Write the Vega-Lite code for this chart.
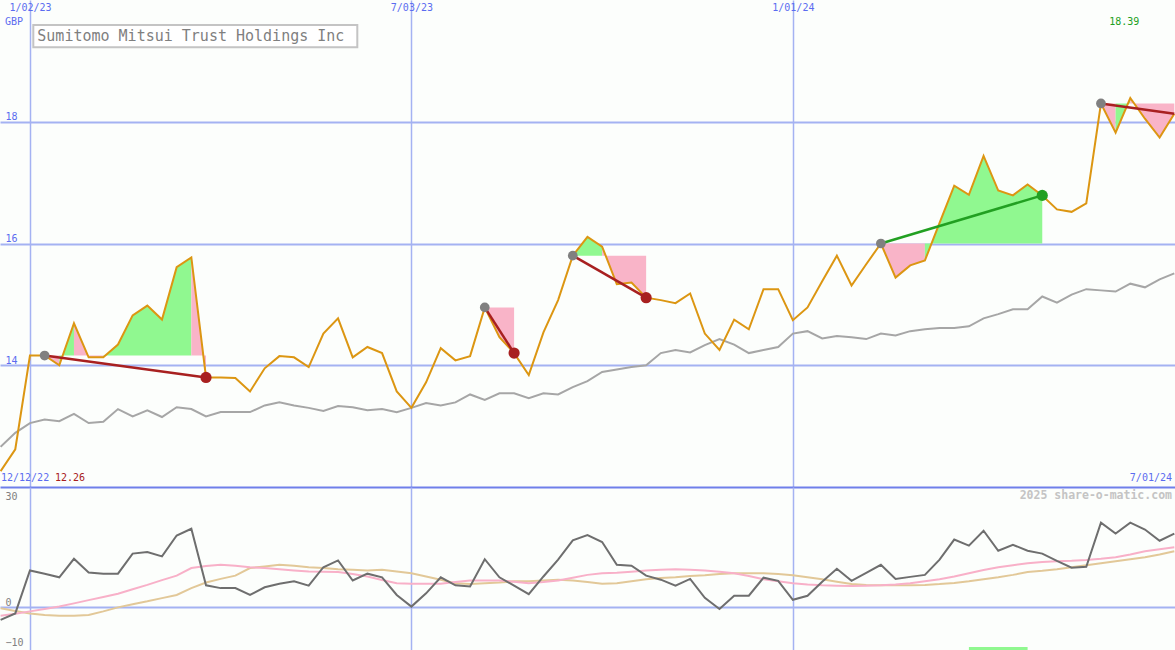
{
  "$schema": "https://vega.github.io/schema/vega-lite/v6.json",
  "background": "#fcfefc",
  "padding": 0,
  "spacing": 0,
  "bounds": "flush",
  "config": {
    "view": {"stroke": null},
    "axis": {"labelFont": "DejaVu Sans Mono"},
    "text": {"font": "DejaVu Sans Mono"}
  },
  "datasets": {
    "weeks": [
      {"d": "2022-12-19T00:00:00", "price": 12.26, "avg": 12.66, "mom": -3.1, "sig1": -2.1, "sig2": -0.2},
      {"d": "2022-12-26T00:00:00", "price": 12.62, "avg": 12.89, "mom": -1.5, "sig1": -1.6, "sig2": -0.9},
      {"d": "2023-01-02T00:00:00", "price": 14.16, "avg": 13.05, "mom": 9.2, "sig1": -1.0, "sig2": -1.5},
      {"d": "2023-01-09T00:00:00", "price": 14.16, "avg": 13.11, "mom": 8.4, "sig1": -0.4, "sig2": -1.9},
      {"d": "2023-01-16T00:00:00", "price": 14.00, "avg": 13.08, "mom": 7.5, "sig1": 0.2, "sig2": -2.1},
      {"d": "2023-01-23T00:00:00", "price": 14.69, "avg": 13.20, "mom": 12.1, "sig1": 1.0, "sig2": -2.1},
      {"d": "2023-01-30T00:00:00", "price": 14.13, "avg": 13.05, "mom": 8.7, "sig1": 1.8, "sig2": -1.9},
      {"d": "2023-02-06T00:00:00", "price": 14.13, "avg": 13.07, "mom": 8.4, "sig1": 2.6, "sig2": -1.0},
      {"d": "2023-02-13T00:00:00", "price": 14.34, "avg": 13.28, "mom": 8.4, "sig1": 3.4, "sig2": 0.0},
      {"d": "2023-02-20T00:00:00", "price": 14.82, "avg": 13.16, "mom": 13.4, "sig1": 4.5, "sig2": 0.8},
      {"d": "2023-02-27T00:00:00", "price": 14.98, "avg": 13.26, "mom": 13.8, "sig1": 5.6, "sig2": 1.5},
      {"d": "2023-03-06T00:00:00", "price": 14.75, "avg": 13.15, "mom": 12.7, "sig1": 6.8, "sig2": 2.3},
      {"d": "2023-03-13T00:00:00", "price": 15.61, "avg": 13.31, "mom": 17.9, "sig1": 7.9, "sig2": 3.1},
      {"d": "2023-03-20T00:00:00", "price": 15.77, "avg": 13.28, "mom": 19.6, "sig1": 9.8, "sig2": 4.8},
      {"d": "2023-03-27T00:00:00", "price": 13.80, "avg": 13.16, "mom": 5.5, "sig1": 10.3, "sig2": 6.2},
      {"d": "2023-04-03T00:00:00", "price": 13.80, "avg": 13.23, "mom": 4.8, "sig1": 10.6, "sig2": 7.1},
      {"d": "2023-04-10T00:00:00", "price": 13.79, "avg": 13.23, "mom": 4.8, "sig1": 10.4, "sig2": 7.9},
      {"d": "2023-04-17T00:00:00", "price": 13.57, "avg": 13.23, "mom": 3.1, "sig1": 10.0, "sig2": 9.8},
      {"d": "2023-04-24T00:00:00", "price": 13.95, "avg": 13.34, "mom": 5.0, "sig1": 9.8, "sig2": 10.2},
      {"d": "2023-05-01T00:00:00", "price": 14.15, "avg": 13.39, "mom": 5.9, "sig1": 9.5, "sig2": 10.6},
      {"d": "2023-05-08T00:00:00", "price": 14.13, "avg": 13.34, "mom": 6.5, "sig1": 9.2, "sig2": 10.4},
      {"d": "2023-05-15T00:00:00", "price": 13.97, "avg": 13.30, "mom": 5.4, "sig1": 8.95, "sig2": 10.0},
      {"d": "2023-05-22T00:00:00", "price": 14.52, "avg": 13.25, "mom": 10.0, "sig1": 8.9, "sig2": 9.8},
      {"d": "2023-05-29T00:00:00", "price": 14.77, "avg": 13.33, "mom": 11.7, "sig1": 8.8, "sig2": 9.5},
      {"d": "2023-06-05T00:00:00", "price": 14.13, "avg": 13.31, "mom": 6.7, "sig1": 8.3, "sig2": 9.4},
      {"d": "2023-06-12T00:00:00", "price": 14.30, "avg": 13.26, "mom": 8.4, "sig1": 7.7, "sig2": 9.2},
      {"d": "2023-06-19T00:00:00", "price": 14.20, "avg": 13.28, "mom": 7.5, "sig1": 6.8, "sig2": 9.4},
      {"d": "2023-06-26T00:00:00", "price": 13.57, "avg": 13.23, "mom": 3.1, "sig1": 6.0, "sig2": 8.95},
      {"d": "2023-07-03T00:00:00", "price": 13.30, "avg": 13.30, "mom": 0.2, "sig1": 5.9, "sig2": 8.5},
      {"d": "2023-07-10T00:00:00", "price": 13.72, "avg": 13.38, "mom": 3.5, "sig1": 5.9, "sig2": 7.7},
      {"d": "2023-07-17T00:00:00", "price": 14.28, "avg": 13.34, "mom": 7.5, "sig1": 5.9, "sig2": 6.9},
      {"d": "2023-07-24T00:00:00", "price": 14.08, "avg": 13.39, "mom": 5.5, "sig1": 6.3, "sig2": 6.0},
      {"d": "2023-07-31T00:00:00", "price": 14.15, "avg": 13.52, "mom": 5.2, "sig1": 6.7, "sig2": 5.8},
      {"d": "2023-08-07T00:00:00", "price": 14.95, "avg": 13.43, "mom": 12.0, "sig1": 6.7, "sig2": 6.0},
      {"d": "2023-08-14T00:00:00", "price": 14.46, "avg": 13.54, "mom": 7.5, "sig1": 6.7, "sig2": 6.2},
      {"d": "2023-08-21T00:00:00", "price": 14.20, "avg": 13.54, "mom": 5.4, "sig1": 6.4, "sig2": 6.5},
      {"d": "2023-08-28T00:00:00", "price": 13.84, "avg": 13.46, "mom": 3.3, "sig1": 6.0, "sig2": 6.5},
      {"d": "2023-09-04T00:00:00", "price": 14.54, "avg": 13.54, "mom": 7.7, "sig1": 6.3, "sig2": 6.7},
      {"d": "2023-09-11T00:00:00", "price": 15.07, "avg": 13.52, "mom": 11.9, "sig1": 6.7, "sig2": 6.9},
      {"d": "2023-09-18T00:00:00", "price": 15.80, "avg": 13.64, "mom": 16.7, "sig1": 7.4, "sig2": 6.7},
      {"d": "2023-09-25T00:00:00", "price": 16.11, "avg": 13.74, "mom": 18.0, "sig1": 8.1, "sig2": 6.3},
      {"d": "2023-10-02T00:00:00", "price": 15.95, "avg": 13.89, "mom": 16.3, "sig1": 8.5, "sig2": 5.9},
      {"d": "2023-10-09T00:00:00", "price": 15.33, "avg": 13.93, "mom": 10.6, "sig1": 8.6, "sig2": 6.0},
      {"d": "2023-10-16T00:00:00", "price": 15.36, "avg": 13.97, "mom": 10.4, "sig1": 8.9, "sig2": 6.5},
      {"d": "2023-10-23T00:00:00", "price": 15.11, "avg": 14.00, "mom": 7.9, "sig1": 9.2, "sig2": 7.0},
      {"d": "2023-10-30T00:00:00", "price": 15.07, "avg": 14.20, "mom": 6.9, "sig1": 9.4, "sig2": 7.3},
      {"d": "2023-11-06T00:00:00", "price": 15.02, "avg": 14.25, "mom": 5.4, "sig1": 9.5, "sig2": 7.5},
      {"d": "2023-11-13T00:00:00", "price": 15.18, "avg": 14.21, "mom": 7.1, "sig1": 9.4, "sig2": 7.8},
      {"d": "2023-11-20T00:00:00", "price": 14.52, "avg": 14.33, "mom": 2.4, "sig1": 9.2, "sig2": 8.0},
      {"d": "2023-11-27T00:00:00", "price": 14.25, "avg": 14.43, "mom": -0.4, "sig1": 8.9, "sig2": 8.3},
      {"d": "2023-12-04T00:00:00", "price": 14.75, "avg": 14.34, "mom": 2.9, "sig1": 8.5, "sig2": 8.5},
      {"d": "2023-12-11T00:00:00", "price": 14.59, "avg": 14.20, "mom": 2.9, "sig1": 7.8, "sig2": 8.5},
      {"d": "2023-12-18T00:00:00", "price": 15.25, "avg": 14.25, "mom": 7.4, "sig1": 7.0, "sig2": 8.5},
      {"d": "2023-12-25T00:00:00", "price": 15.25, "avg": 14.30, "mom": 6.6, "sig1": 6.5, "sig2": 8.3},
      {"d": "2024-01-01T00:00:00", "price": 14.74, "avg": 14.52, "mom": 1.9, "sig1": 6.0, "sig2": 8.0},
      {"d": "2024-01-08T00:00:00", "price": 14.95, "avg": 14.56, "mom": 2.9, "sig1": 5.7, "sig2": 7.5},
      {"d": "2024-01-15T00:00:00", "price": 15.38, "avg": 14.44, "mom": 6.4, "sig1": 5.5, "sig2": 7.0},
      {"d": "2024-01-22T00:00:00", "price": 15.80, "avg": 14.48, "mom": 9.6, "sig1": 5.4, "sig2": 6.4},
      {"d": "2024-01-29T00:00:00", "price": 15.31, "avg": 14.46, "mom": 6.6, "sig1": 5.3, "sig2": 5.8},
      {"d": "2024-02-05T00:00:00", "price": 15.66, "avg": 14.43, "mom": 8.6, "sig1": 5.4, "sig2": 5.6},
      {"d": "2024-02-12T00:00:00", "price": 16.00, "avg": 14.52, "mom": 10.6, "sig1": 5.5, "sig2": 5.5},
      {"d": "2024-02-19T00:00:00", "price": 15.44, "avg": 14.49, "mom": 7.1, "sig1": 5.7, "sig2": 5.5},
      {"d": "2024-02-26T00:00:00", "price": 15.64, "avg": 14.56, "mom": 7.6, "sig1": 6.0, "sig2": 5.5},
      {"d": "2024-03-04T00:00:00", "price": 15.72, "avg": 14.59, "mom": 8.1, "sig1": 6.5, "sig2": 5.6},
      {"d": "2024-03-11T00:00:00", "price": 16.34, "avg": 14.61, "mom": 11.9, "sig1": 7.0, "sig2": 5.8},
      {"d": "2024-03-18T00:00:00", "price": 16.95, "avg": 14.61, "mom": 16.9, "sig1": 7.7, "sig2": 6.1},
      {"d": "2024-03-25T00:00:00", "price": 16.80, "avg": 14.64, "mom": 15.4, "sig1": 8.5, "sig2": 6.5},
      {"d": "2024-04-01T00:00:00", "price": 17.44, "avg": 14.77, "mom": 19.1, "sig1": 9.3, "sig2": 7.0},
      {"d": "2024-04-08T00:00:00", "price": 16.87, "avg": 14.84, "mom": 14.1, "sig1": 10.0, "sig2": 7.5},
      {"d": "2024-04-15T00:00:00", "price": 16.79, "avg": 14.92, "mom": 15.6, "sig1": 10.5, "sig2": 8.1},
      {"d": "2024-04-22T00:00:00", "price": 16.97, "avg": 14.92, "mom": 14.1, "sig1": 11.0, "sig2": 8.8},
      {"d": "2024-04-29T00:00:00", "price": 16.79, "avg": 15.13, "mom": 13.4, "sig1": 11.3, "sig2": 9.1},
      {"d": "2024-05-06T00:00:00", "price": 16.56, "avg": 15.03, "mom": 11.6, "sig1": 11.5, "sig2": 9.5},
      {"d": "2024-05-13T00:00:00", "price": 16.52, "avg": 15.16, "mom": 9.9, "sig1": 11.6, "sig2": 10.0},
      {"d": "2024-05-20T00:00:00", "price": 16.66, "avg": 15.25, "mom": 10.1, "sig1": 11.8, "sig2": 10.5},
      {"d": "2024-05-27T00:00:00", "price": 18.30, "avg": 15.23, "mom": 21.1, "sig1": 12.1, "sig2": 11.0},
      {"d": "2024-06-03T00:00:00", "price": 17.82, "avg": 15.21, "mom": 18.4, "sig1": 12.5, "sig2": 11.5},
      {"d": "2024-06-10T00:00:00", "price": 18.39, "avg": 15.34, "mom": 21.1, "sig1": 13.2, "sig2": 12.0},
      {"d": "2024-06-17T00:00:00", "price": 18.05, "avg": 15.28, "mom": 19.4, "sig1": 14.0, "sig2": 12.5},
      {"d": "2024-06-24T00:00:00", "price": 17.74, "avg": 15.41, "mom": 16.6, "sig1": 14.5, "sig2": 13.2},
      {"d": "2024-07-01T00:00:00", "price": 18.13, "avg": 15.51, "mom": 18.4, "sig1": 15.0, "sig2": 14.0}
    ],
    "shade": [
      {"run": "1a", "gain": "down", "d": "2023-01-09T00:00:00", "price": 14.16, "base": 14.16},
      {"run": "1a", "gain": "down", "d": "2023-01-16T00:00:00", "price": 14.00, "base": 14.16},
      {"run": "1b", "gain": "up", "d": "2023-01-16T00:00:00", "price": 14.00, "base": 14.16},
      {"run": "1b", "gain": "up", "d": "2023-01-23T00:00:00", "price": 14.69, "base": 14.16},
      {"run": "1c", "gain": "down", "d": "2023-01-23T00:00:00", "price": 14.69, "base": 14.16},
      {"run": "1c", "gain": "down", "d": "2023-01-30T00:00:00", "price": 14.13, "base": 14.16},
      {"run": "1c", "gain": "down", "d": "2023-02-06T00:00:00", "price": 14.13, "base": 14.16},
      {"run": "1d", "gain": "up", "d": "2023-02-06T00:00:00", "price": 14.13, "base": 14.16},
      {"run": "1d", "gain": "up", "d": "2023-02-13T00:00:00", "price": 14.34, "base": 14.16},
      {"run": "1d", "gain": "up", "d": "2023-02-20T00:00:00", "price": 14.82, "base": 14.16},
      {"run": "1d", "gain": "up", "d": "2023-02-27T00:00:00", "price": 14.98, "base": 14.16},
      {"run": "1d", "gain": "up", "d": "2023-03-06T00:00:00", "price": 14.75, "base": 14.16},
      {"run": "1d", "gain": "up", "d": "2023-03-13T00:00:00", "price": 15.61, "base": 14.16},
      {"run": "1d", "gain": "up", "d": "2023-03-20T00:00:00", "price": 15.77, "base": 14.16},
      {"run": "1e", "gain": "down", "d": "2023-03-20T00:00:00", "price": 15.77, "base": 14.16},
      {"run": "1e", "gain": "down", "d": "2023-03-27T00:00:00", "price": 13.80, "base": 14.16},
      {"run": "2a", "gain": "down", "d": "2023-08-07T00:00:00", "price": 14.95, "base": 14.95},
      {"run": "2a", "gain": "down", "d": "2023-08-14T00:00:00", "price": 14.46, "base": 14.95},
      {"run": "2a", "gain": "down", "d": "2023-08-21T00:00:00", "price": 14.20, "base": 14.95},
      {"run": "3a", "gain": "up", "d": "2023-09-18T00:00:00", "price": 15.80, "base": 15.80},
      {"run": "3a", "gain": "up", "d": "2023-09-25T00:00:00", "price": 16.11, "base": 15.80},
      {"run": "3a", "gain": "up", "d": "2023-10-02T00:00:00", "price": 15.95, "base": 15.80},
      {"run": "3b", "gain": "down", "d": "2023-10-02T00:00:00", "price": 15.95, "base": 15.80},
      {"run": "3b", "gain": "down", "d": "2023-10-09T00:00:00", "price": 15.33, "base": 15.80},
      {"run": "3b", "gain": "down", "d": "2023-10-16T00:00:00", "price": 15.36, "base": 15.80},
      {"run": "3b", "gain": "down", "d": "2023-10-23T00:00:00", "price": 15.11, "base": 15.80},
      {"run": "4a", "gain": "down", "d": "2024-02-12T00:00:00", "price": 16.00, "base": 16.00},
      {"run": "4a", "gain": "down", "d": "2024-02-19T00:00:00", "price": 15.44, "base": 16.00},
      {"run": "4a", "gain": "down", "d": "2024-02-26T00:00:00", "price": 15.64, "base": 16.00},
      {"run": "4a", "gain": "down", "d": "2024-03-04T00:00:00", "price": 15.72, "base": 16.00},
      {"run": "4b", "gain": "up", "d": "2024-03-04T00:00:00", "price": 15.72, "base": 16.00},
      {"run": "4b", "gain": "up", "d": "2024-03-11T00:00:00", "price": 16.34, "base": 16.00},
      {"run": "4b", "gain": "up", "d": "2024-03-18T00:00:00", "price": 16.95, "base": 16.00},
      {"run": "4b", "gain": "up", "d": "2024-03-25T00:00:00", "price": 16.80, "base": 16.00},
      {"run": "4b", "gain": "up", "d": "2024-04-01T00:00:00", "price": 17.44, "base": 16.00},
      {"run": "4b", "gain": "up", "d": "2024-04-08T00:00:00", "price": 16.87, "base": 16.00},
      {"run": "4b", "gain": "up", "d": "2024-04-15T00:00:00", "price": 16.79, "base": 16.00},
      {"run": "4b", "gain": "up", "d": "2024-04-22T00:00:00", "price": 16.97, "base": 16.00},
      {"run": "4b", "gain": "up", "d": "2024-04-29T00:00:00", "price": 16.79, "base": 16.00},
      {"run": "5a", "gain": "down", "d": "2024-05-27T00:00:00", "price": 18.30, "base": 18.30},
      {"run": "5a", "gain": "down", "d": "2024-06-03T00:00:00", "price": 17.82, "base": 18.30},
      {"run": "5b", "gain": "up", "d": "2024-06-03T00:00:00", "price": 17.82, "base": 18.30},
      {"run": "5b", "gain": "up", "d": "2024-06-10T00:00:00", "price": 18.39, "base": 18.30},
      {"run": "5c", "gain": "down", "d": "2024-06-10T00:00:00", "price": 18.39, "base": 18.30},
      {"run": "5c", "gain": "down", "d": "2024-06-17T00:00:00", "price": 18.05, "base": 18.30},
      {"run": "5c", "gain": "down", "d": "2024-06-24T00:00:00", "price": 17.74, "base": 18.30},
      {"run": "5c", "gain": "down", "d": "2024-07-01T00:00:00", "price": 18.13, "base": 18.30}
    ],
    "trades": [
      {"d0": "2023-01-09T00:00:00", "p0": 14.16, "d1": "2023-03-27T00:00:00", "p1": 13.80, "result": "loss"},
      {"d0": "2023-08-07T00:00:00", "p0": 14.95, "d1": "2023-08-21T00:00:00", "p1": 14.20, "result": "loss"},
      {"d0": "2023-09-18T00:00:00", "p0": 15.80, "d1": "2023-10-23T00:00:00", "p1": 15.11, "result": "loss"},
      {"d0": "2024-02-12T00:00:00", "p0": 16.00, "d1": "2024-04-29T00:00:00", "p1": 16.79, "result": "gain"},
      {"d0": "2024-05-27T00:00:00", "p0": 18.30, "d1": "2024-07-01T00:00:00", "p1": 18.13, "result": "open"}
    ],
    "flags": [
      {"d0": "2024-03-25T00:00:00", "d1": "2024-04-22T00:00:00", "hi": -9.9, "lo": -11}
    ]
  },
  "vconcat": [
    {
      "width": 1175,
      "height": 487,
      "resolve": {"axis": {"x": "independent", "y": "independent"}},
      "layer": [
        {
          "data": {"name": "shade"},
          "mark": {"type": "area", "clip": true, "opacity": 1},
          "encoding": {
            "x": {"field": "d", "type": "temporal", "scale": {"domain": [{"year": 2022, "month": 12, "date": 18, "hours": 17}, {"year": 2024, "month": 7, "date": 1, "hours": 8}]},
              "axis": {"orient": "top", "values": [{"year": 2023, "month": 1, "date": 2}, {"year": 2023, "month": 7, "date": 3}, {"year": 2024, "month": 1, "date": 1}], "format": "%-m/%d/%y", "grid": true, "gridColor": "#a4b2f2", "gridWidth": 1.5, "domain": false, "ticks": false, "labelPadding": -12, "labelColor": "#5b6cf0", "labelFontSize": 10, "labelFlush": false, "labelOverlap": false, "title": null}},
            "y": {"field": "price", "type": "quantitative", "stack": null, "scale": {"domain": [12, 20], "nice": false, "zero": false},
              "axis": {"orient": "left", "values": [12, 14, 16, 18], "grid": true, "gridColor": {"condition": {"test": "datum.value == 12", "value": "#6f7fea"}, "value": "#a4b2f2"}, "gridWidth": 2, "domain": false, "ticks": false, "labelPadding": -5, "labelAlign": "left", "labelBaseline": "bottom", "labelOffset": 0, "labelColor": "#5b6cf0", "labelFontSize": 10, "labelExpr": "datum.value == 12 ? '' : datum.label", "labelFlush": false, "labelOverlap": false, "title": null}},
            "y2": {"field": "base"},
            "detail": {"field": "run", "type": "nominal"},
            "color": {"condition": {"test": "datum.gain == 'up'", "value": "#90f890"}, "value": "#f9b4c8"}
          }
        },
        {
          "data": {"name": "weeks"},
          "mark": {"type": "line", "clip": true, "color": "#a6a6a6", "strokeWidth": 2},
          "encoding": {
            "x": {"field": "d", "type": "temporal", "scale": {"domain": [{"year": 2022, "month": 12, "date": 18, "hours": 17}, {"year": 2024, "month": 7, "date": 1, "hours": 8}]}, "axis": null},
            "y": {"field": "avg", "type": "quantitative", "scale": {"domain": [12, 20], "nice": false, "zero": false}, "axis": null}
          }
        },
        {
          "data": {"name": "weeks"},
          "mark": {"type": "line", "clip": true, "color": "#dc9612", "strokeWidth": 2},
          "encoding": {
            "x": {"field": "d", "type": "temporal", "scale": {"domain": [{"year": 2022, "month": 12, "date": 18, "hours": 17}, {"year": 2024, "month": 7, "date": 1, "hours": 8}]}, "axis": null},
            "y": {"field": "price", "type": "quantitative", "scale": {"domain": [12, 20], "nice": false, "zero": false}, "axis": null}
          }
        },
        {
          "data": {"name": "trades"},
          "mark": {"type": "rule", "clip": true, "strokeWidth": 2.5},
          "encoding": {
            "x": {"field": "d0", "type": "temporal", "scale": {"domain": [{"year": 2022, "month": 12, "date": 18, "hours": 17}, {"year": 2024, "month": 7, "date": 1, "hours": 8}]}, "axis": null},
            "x2": {"field": "d1"},
            "y": {"field": "p0", "type": "quantitative", "scale": {"domain": [12, 20], "nice": false, "zero": false}, "axis": null},
            "y2": {"field": "p1"},
            "color": {"condition": {"test": "datum.result == 'gain'", "value": "#22a022"}, "value": "#a82020"}
          }
        },
        {
          "data": {"name": "trades"},
          "mark": {"type": "circle", "clip": true, "size": 95, "opacity": 1, "color": "#808080"},
          "encoding": {
            "x": {"field": "d0", "type": "temporal", "scale": {"domain": [{"year": 2022, "month": 12, "date": 18, "hours": 17}, {"year": 2024, "month": 7, "date": 1, "hours": 8}]}, "axis": null},
            "y": {"field": "p0", "type": "quantitative", "scale": {"domain": [12, 20], "nice": false, "zero": false}, "axis": null}
          }
        },
        {
          "data": {"name": "trades"},
          "transform": [{"filter": "datum.result != 'open'"}],
          "mark": {"type": "circle", "clip": true, "size": 125, "opacity": 1},
          "encoding": {
            "x": {"field": "d1", "type": "temporal", "scale": {"domain": [{"year": 2022, "month": 12, "date": 18, "hours": 17}, {"year": 2024, "month": 7, "date": 1, "hours": 8}]}, "axis": null},
            "y": {"field": "p1", "type": "quantitative", "scale": {"domain": [12, 20], "nice": false, "zero": false}, "axis": null},
            "color": {"condition": {"test": "datum.result == 'gain'", "value": "#22a022"}, "value": "#a82020"}
          }
        },
        {
          "data": {"values": [{}]},
          "mark": {"type": "rect", "fill": "#ffffff", "stroke": "#c4c4c4", "strokeWidth": 2},
          "encoding": {
            "x": {"datum": {"year": 2023, "month": 1, "date": 3, "hours": 14, "minutes": 20}, "type": "temporal", "scale": {"domain": [{"year": 2022, "month": 12, "date": 18, "hours": 17}, {"year": 2024, "month": 7, "date": 1, "hours": 8}]}, "axis": null},
            "x2": {"datum": {"year": 2023, "month": 6, "date": 7, "hours": 4, "minutes": 30}},
            "y": {"datum": 19.59, "type": "quantitative", "scale": {"domain": [12, 20], "nice": false, "zero": false}, "axis": null},
            "y2": {"datum": 19.223}
          }
        },
        {
          "data": {"values": [{}]},
          "mark": {"type": "text", "text": "Sumitomo Mitsui Trust Holdings Inc", "align": "left", "baseline": "middle", "dx": 4, "fontSize": 15, "color": "#7f7f7f", "font": "DejaVu Sans Mono"},
          "encoding": {
            "x": {"datum": {"year": 2023, "month": 1, "date": 3, "hours": 14, "minutes": 20}, "type": "temporal", "scale": {"domain": [{"year": 2022, "month": 12, "date": 18, "hours": 17}, {"year": 2024, "month": 7, "date": 1, "hours": 8}]}, "axis": null},
            "y": {"datum": 19.41, "type": "quantitative", "scale": {"domain": [12, 20], "nice": false, "zero": false}, "axis": null}
          }
        },
        {
          "data": {"values": [{}]},
          "mark": {"type": "text", "text": "GBP", "align": "left", "baseline": "middle", "dx": 5, "fontSize": 10, "color": "#5b6cf0", "font": "DejaVu Sans Mono"},
          "encoding": {
            "x": {"datum": {"year": 2022, "month": 12, "date": 18, "hours": 17}, "type": "temporal", "scale": {"domain": [{"year": 2022, "month": 12, "date": 18, "hours": 17}, {"year": 2024, "month": 7, "date": 1, "hours": 8}]}, "axis": null},
            "y": {"datum": 19.64, "type": "quantitative", "scale": {"domain": [12, 20], "nice": false, "zero": false}, "axis": null}
          }
        },
        {
          "data": {"values": [{}]},
          "mark": {"type": "text", "text": "12/12/22", "align": "left", "baseline": "middle", "dx": 1, "fontSize": 10, "color": "#5b6cf0", "font": "DejaVu Sans Mono"},
          "encoding": {
            "x": {"datum": {"year": 2022, "month": 12, "date": 18, "hours": 17}, "type": "temporal", "scale": {"domain": [{"year": 2022, "month": 12, "date": 18, "hours": 17}, {"year": 2024, "month": 7, "date": 1, "hours": 8}]}, "axis": null},
            "y": {"datum": 12.14, "type": "quantitative", "scale": {"domain": [12, 20], "nice": false, "zero": false}, "axis": null}
          }
        },
        {
          "data": {"values": [{}]},
          "mark": {"type": "text", "text": "7/01/24", "align": "right", "baseline": "middle", "dx": -3, "fontSize": 10, "color": "#5b6cf0", "font": "DejaVu Sans Mono"},
          "encoding": {
            "x": {"datum": {"year": 2024, "month": 7, "date": 1, "hours": 8}, "type": "temporal", "scale": {"domain": [{"year": 2022, "month": 12, "date": 18, "hours": 17}, {"year": 2024, "month": 7, "date": 1, "hours": 8}]}, "axis": null},
            "y": {"datum": 12.14, "type": "quantitative", "scale": {"domain": [12, 20], "nice": false, "zero": false}, "axis": null}
          }
        },
        {
          "data": {"name": "weeks"},
          "transform": [{"aggregate": [{"op": "min", "field": "price", "as": "lo"}]}],
          "mark": {"type": "text", "align": "left", "baseline": "middle", "dx": 55, "fontSize": 10, "color": "#a82020", "font": "DejaVu Sans Mono"},
          "encoding": {
            "x": {"datum": {"year": 2022, "month": 12, "date": 18, "hours": 17}, "type": "temporal", "scale": {"domain": [{"year": 2022, "month": 12, "date": 18, "hours": 17}, {"year": 2024, "month": 7, "date": 1, "hours": 8}]}, "axis": null},
            "y": {"datum": 12.14, "type": "quantitative", "scale": {"domain": [12, 20], "nice": false, "zero": false}, "axis": null},
            "text": {"field": "lo", "type": "quantitative", "format": ".2f"}
          }
        },
        {
          "data": {"name": "weeks"},
          "transform": [{"aggregate": [{"op": "max", "field": "price", "as": "hi"}]}],
          "mark": {"type": "text", "align": "center", "baseline": "middle", "dx": -6, "fontSize": 10, "color": "#22a022", "font": "DejaVu Sans Mono"},
          "encoding": {
            "x": {"datum": {"year": 2024, "month": 6, "date": 10}, "type": "temporal", "scale": {"domain": [{"year": 2022, "month": 12, "date": 18, "hours": 17}, {"year": 2024, "month": 7, "date": 1, "hours": 8}]}, "axis": null},
            "y": {"datum": 19.64, "type": "quantitative", "scale": {"domain": [12, 20], "nice": false, "zero": false}, "axis": null},
            "text": {"field": "hi", "type": "quantitative", "format": ".2f"}
          }
        }
      ]
    },
    {
      "width": 1175,
      "height": 163,
      "resolve": {"axis": {"x": "independent", "y": "independent"}},
      "layer": [
        {
          "data": {"name": "flags"},
          "mark": {"type": "rect", "clip": true, "color": "#90f890"},
          "encoding": {
            "x": {"field": "d0", "type": "temporal", "scale": {"domain": [{"year": 2022, "month": 12, "date": 18, "hours": 17}, {"year": 2024, "month": 7, "date": 1, "hours": 8}]},
              "axis": {"orient": "top", "values": [{"year": 2023, "month": 1, "date": 2}, {"year": 2023, "month": 7, "date": 3}, {"year": 2024, "month": 1, "date": 1}], "labels": false, "grid": true, "gridColor": "#a4b2f2", "gridWidth": 1.5, "domain": false, "ticks": false, "title": null}},
            "x2": {"field": "d1"},
            "y": {"field": "hi", "type": "quantitative", "scale": {"domain": [-10.625, 30], "nice": false, "zero": false},
              "axis": {"orient": "left", "values": [30, 0, -10], "grid": true, "gridColor": "#a4b2f2", "gridWidth": 2, "gridOpacity": {"condition": {"test": "datum.value != 0", "value": 0}, "value": 1}, "domain": false, "ticks": false, "labelPadding": -5, "labelAlign": "left", "labelBaseline": {"condition": {"test": "datum.value == 30", "value": "top"}, "value": "bottom"}, "labelOffset": {"condition": {"test": "datum.value == 30", "value": 4}, "value": 0}, "labelColor": "#808080", "labelFontSize": 10, "labelFlush": false, "labelOverlap": false, "title": null}},
            "y2": {"field": "lo"}
          }
        },
        {
          "data": {"name": "weeks"},
          "mark": {"type": "line", "clip": true, "color": "#e2c898", "strokeWidth": 2},
          "encoding": {
            "x": {"field": "d", "type": "temporal", "scale": {"domain": [{"year": 2022, "month": 12, "date": 18, "hours": 17}, {"year": 2024, "month": 7, "date": 1, "hours": 8}]}, "axis": null},
            "y": {"field": "sig2", "type": "quantitative", "scale": {"domain": [-10.625, 30], "nice": false, "zero": false}, "axis": null}
          }
        },
        {
          "data": {"name": "weeks"},
          "mark": {"type": "line", "clip": true, "color": "#f8b0c8", "strokeWidth": 2},
          "encoding": {
            "x": {"field": "d", "type": "temporal", "scale": {"domain": [{"year": 2022, "month": 12, "date": 18, "hours": 17}, {"year": 2024, "month": 7, "date": 1, "hours": 8}]}, "axis": null},
            "y": {"field": "sig1", "type": "quantitative", "scale": {"domain": [-10.625, 30], "nice": false, "zero": false}, "axis": null}
          }
        },
        {
          "data": {"name": "weeks"},
          "mark": {"type": "line", "clip": true, "color": "#6e6e6e", "strokeWidth": 2},
          "encoding": {
            "x": {"field": "d", "type": "temporal", "scale": {"domain": [{"year": 2022, "month": 12, "date": 18, "hours": 17}, {"year": 2024, "month": 7, "date": 1, "hours": 8}]}, "axis": null},
            "y": {"field": "mom", "type": "quantitative", "scale": {"domain": [-10.625, 30], "nice": false, "zero": false}, "axis": null}
          }
        },
        {
          "data": {"values": [{}]},
          "mark": {"type": "text", "text": "2025 share-o-matic.com", "align": "right", "baseline": "middle", "dx": -3, "fontSize": 11.5, "fontWeight": "bold", "color": "#c4c4c4", "font": "DejaVu Sans Mono"},
          "encoding": {
            "x": {"datum": {"year": 2024, "month": 7, "date": 1, "hours": 8}, "type": "temporal", "scale": {"domain": [{"year": 2022, "month": 12, "date": 18, "hours": 17}, {"year": 2024, "month": 7, "date": 1, "hours": 8}]}, "axis": null},
            "y": {"datum": 27.75, "type": "quantitative", "scale": {"domain": [-10.625, 30], "nice": false, "zero": false}, "axis": null}
          }
        }
      ]
    }
  ]
}
